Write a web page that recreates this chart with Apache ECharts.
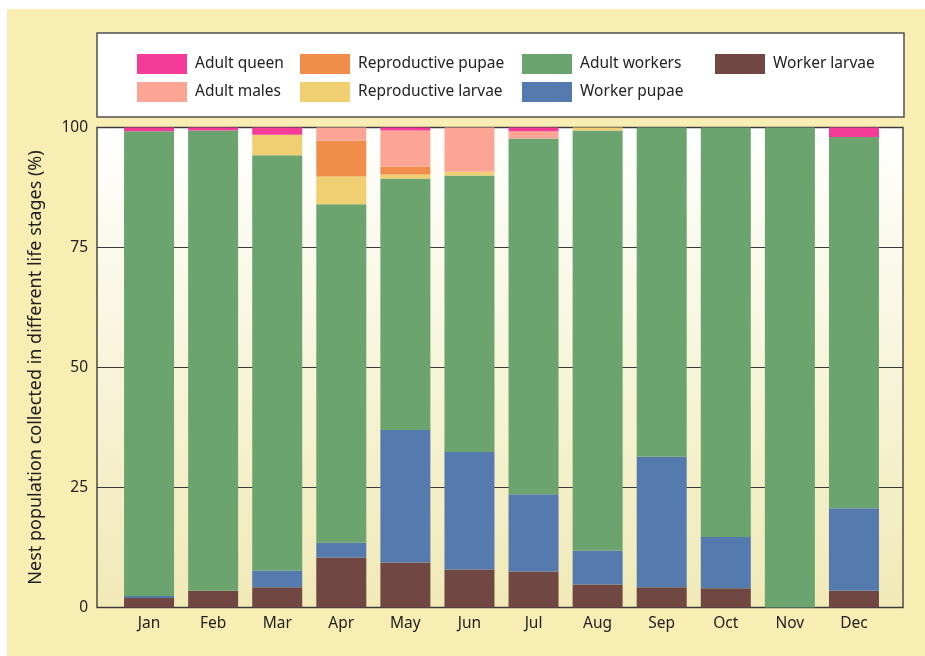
<!DOCTYPE html>
<html>
<head>
<meta charset="utf-8">
<script src="https://cdn.jsdelivr.net/npm/echarts@6/dist/echarts.min.js"></script>
<style>
  html, body { margin: 0; padding: 0; background: #ffffff; }
  .panel { position: absolute; left: 7px; top: 9px; right: 0; bottom: 0; background: #f8edb3; }
  .chart { position: absolute; left: 0; top: 0; width: 925px; height: 656px; }
</style>
</head>
<body>
<div class="panel"></div>
<div class="chart"></div>
<script>
const months = ["Jan", "Feb", "Mar", "Apr", "May", "Jun", "Jul", "Aug", "Sep", "Oct", "Nov", "Dec"];
const yTicks = [0, 25, 50, 75, 100];

// % of nest population, stacked bottom to top
const workerLarvae = [2.0, 3.5, 4.2, 10.4, 9.4, 7.9, 7.5, 4.8, 4.2, 4.0, 0, 3.5];
const workerPupae = [0.4, 0, 3.5, 3.1, 27.6, 24.5, 16.1, 7.1, 27.2, 10.7, 0, 17.2];
const adultWorkers = [96.8, 95.9, 86.5, 70.5, 52.4, 57.6, 74.1, 87.5, 68.6, 85.3, 100, 77.3];
const reproLarvae = [0, 0, 4.3, 5.8, 0.8, 0.8, 0, 0.6, 0, 0, 0, 0];
const reproPupae = [0, 0, 0, 7.5, 1.7, 0, 0, 0, 0, 0, 0, 0];
const adultMales = [0, 0, 0, 2.7, 7.5, 9.2, 1.5, 0, 0, 0, 0, 0];
const adultQueen = [0.8, 0.6, 1.5, 0, 0.6, 0, 0.8, 0, 0, 0, 0, 2.0];

const font = "Noto Sans";
const chart = echarts.init(document.querySelector(".chart"));

function stage(name, data, color) {
  return {
    name: name,
    type: "bar",
    stack: "nest",
    data: data,
    barWidth: 50,
    xAxisIndex: 1,
    yAxisIndex: 1,
    itemStyle: { color: color },
    emphasis: { disabled: true },
  };
}

function legendCol(left, names) {
  return {
    orient: "vertical",
    left: left,
    top: 49,
    itemWidth: 50,
    itemHeight: 20,
    itemGap: 8,
    icon: "rect",
    selectedMode: false,
    data: names,
    textStyle: { fontFamily: font, fontSize: 15.5, color: "#222", padding: [0, 0, 0, 3] },
  };
}

const option = {
  animation: false,
  textStyle: { fontFamily: font },
  graphic: [
    {
      type: "rect",
      shape: { x: 97, y: 33, width: 807, height: 84 },
      style: { fill: "#ffffff", stroke: "#505050", lineWidth: 1.5 },
    },
  ],
  legend: [
    legendCol(132, ["Adult queen", "Adult males"]),
    legendCol(295, ["Reproductive pupae", "Reproductive larvae"]),
    legendCol(517, ["Adult workers", "Worker pupae"]),
    legendCol(710, ["Worker larvae"]),
  ],
  grid: [
    {
      left: 97,
      right: 22,
      top: 127.5,
      bottom: 48.5,
      show: true,
      borderColor: "#4a4a4a",
      borderWidth: 1.5,
      backgroundColor: new echarts.graphic.LinearGradient(0, 0, 0, 1, [
        { offset: 0, color: "#ffffff" },
        { offset: 1, color: "#f1e9b6" },
      ]),
    },
    { left: 117, right: 39, top: 127.5, bottom: 48.5 },
  ],
  xAxis: [
    { gridIndex: 0, type: "value", show: false },
    {
      gridIndex: 1,
      type: "category",
      data: months,
      axisLine: { show: false },
      axisTick: { show: false },
      axisLabel: { fontFamily: font, fontSize: 15.5, color: "#222", margin: 8 },
    },
  ],
  yAxis: [
    {
      gridIndex: 0,
      type: "value",
      min: yTicks[0],
      max: yTicks[yTicks.length - 1],
      interval: 25,
      axisLine: { show: false },
      axisTick: { show: false },
      axisLabel: { fontFamily: font, fontSize: 15.5, color: "#222", margin: 9 },
      splitLine: { lineStyle: { color: "#3a3a3a", width: 1.2 } },
      name: "Nest population collected in different life stages (%)",
      nameLocation: "middle",
      nameGap: 52,
      nameTextStyle: { fontFamily: font, fontSize: 18, color: "#222" },
    },
    { gridIndex: 1, type: "value", min: 0, max: 100, show: false },
  ],
  series: [
    stage("Worker larvae", workerLarvae, "#704743"),
    stage("Worker pupae", workerPupae, "#557aae"),
    stage("Adult workers", adultWorkers, "#6ba46e"),
    stage("Reproductive larvae", reproLarvae, "#f0cf73"),
    stage("Reproductive pupae", reproPupae, "#f08d4a"),
    stage("Adult males", adultMales, "#fca595"),
    stage("Adult queen", adultQueen, "#f33b97"),
  ],
};

chart.setOption(option);
window.onresize = function () {
  chart.resize();
};
</script>
</body>
</html>
